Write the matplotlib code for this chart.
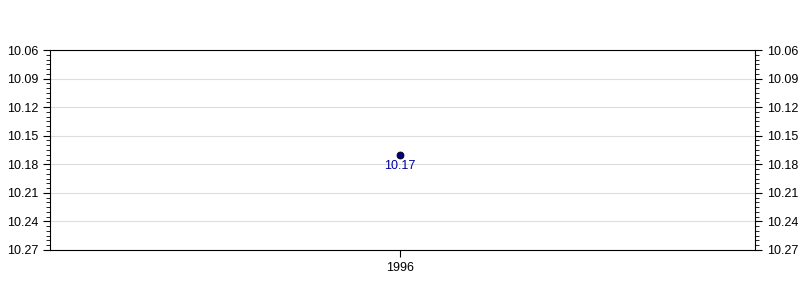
import matplotlib
matplotlib.use("Agg")
import matplotlib.pyplot as plt
from matplotlib.ticker import FixedLocator, FormatStrFormatter

plt.rcParams['font.family'] = ['Liberation Sans', 'DejaVu Sans']

years = ["1996"]
values = [10.17]
labels = ["10.17"]
y_ticks = [10.06, 10.09, 10.12, 10.15, 10.18, 10.21, 10.24, 10.27]

fig = plt.figure(figsize=(8, 3), dpi=100)
ax = fig.add_axes([0.0625, 0.1667, 0.88125, 0.6666])

x = list(range(len(years)))
ax.plot(x, values, 'o', color='#000080', markeredgecolor='black', markersize=5, markeredgewidth=0.6, zorder=3)
for xi, v, lab in zip(x, values, labels):
    ax.annotate(lab, (xi, v), xytext=(0, -4), textcoords='offset points',
                ha='center', va='top', color='#0000a0', fontsize=9)

ax.set_xlim(-0.4965, 0.5035)
ax.set_ylim(y_ticks[-1], y_ticks[0])
ax.set_xticks(x)
ax.set_xticklabels(years, fontsize=9)
ax.yaxis.set_major_locator(FixedLocator(y_ticks))
minor = [y_ticks[0] + 0.005 * i for i in range(int(round((y_ticks[-1] - y_ticks[0]) / 0.005)) + 1)]
ax.yaxis.set_minor_locator(FixedLocator(minor))
ax.yaxis.set_major_formatter(FormatStrFormatter('%.2f'))
ax.tick_params(axis='y', which='both', left=True, right=True, labelleft=True, labelright=True, labelsize=9, direction='out')
ax.tick_params(axis='y', which='major', length=5)
ax.tick_params(axis='y', which='minor', length=3)
ax.tick_params(axis='x', length=5, labelsize=9)
ax.grid(axis='y', which='major', color='#dddddd', linewidth=0.8)
ax.set_axisbelow(True)
for s in ax.spines.values():
    s.set_color('black')
    s.set_linewidth(0.8)

fig.savefig('out.png', dpi=100)
